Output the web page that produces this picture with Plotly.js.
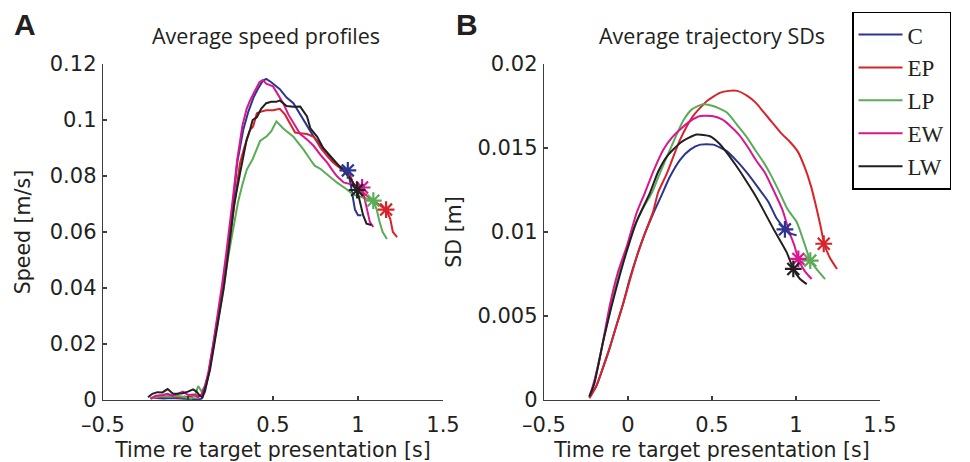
<!DOCTYPE html>
<html>
<head>
<meta charset="utf-8">
<script src="https://cdn.plot.ly/plotly-3.0.1.min.js"></script>
<style>html,body{margin:0;padding:0;background:#fff;}#chart{width:970px;height:462px;}</style>
</head>
<body>
<div id="chart"></div>
<script>
// ---------- DATA ----------
const seriesNames = ['C', 'EP', 'LP', 'EW', 'LW'];

// Panel A: average speed profiles (time [s], speed [m/s])
const speedT_C  = [-0.22,-0.18,-0.14,-0.1,-0.06,-0.02,0.02,0.06,0.08,0.1,0.12,0.148,0.176,0.204,0.226,0.247,0.265,0.29,0.325,0.355,0.385,0.41,0.44,0.46,0.49,0.54,0.58,0.62,0.65,0.68,0.71,0.74,0.78,0.82,0.86,0.89,0.915,0.94,0.955,0.97,0.982,1.0,1.02];
const speedV_C  = [0.0008,0.0006,0.0005,0.0007,0.0006,0.0004,0.0003,0.0002,0.0005,0.003,0.009,0.019,0.029,0.04,0.05,0.06,0.07,0.085,0.0965,0.103,0.108,0.111,0.114,0.1147,0.1135,0.111,0.108,0.106,0.103,0.1,0.097,0.094,0.091,0.088,0.085,0.0835,0.0828,0.082,0.0776,0.073,0.068,0.066,0.066];
const speedT_EP = [-0.22,-0.18,-0.14,-0.1,-0.06,-0.04,-0.02,0.0,0.03,0.06,0.09,0.12,0.148,0.176,0.204,0.228,0.25,0.272,0.306,0.33,0.365,0.383,0.405,0.43,0.46,0.5,0.54,0.57,0.6,0.63,0.66,0.7,0.74,0.78,0.82,0.85,0.88,0.915,0.95,0.97,1.01,1.05,1.09,1.13,1.165,1.19,1.205,1.23];
const speedV_EP = [0.0005,0.001,0.0012,0.0015,0.001,0.0008,0.0012,0.001,0.0015,0.001,0.0025,0.009,0.019,0.029,0.039,0.05,0.06,0.07,0.0847,0.09,0.0965,0.0977,0.1024,0.103,0.1035,0.1035,0.104,0.102,0.099,0.0955,0.0953,0.095,0.094,0.09,0.087,0.085,0.0835,0.082,0.081,0.0776,0.075,0.073,0.0712,0.0695,0.068,0.0646,0.06,0.0582];
const speedT_LP = [-0.22,-0.18,-0.14,-0.1,-0.06,-0.02,0.02,0.04,0.06,0.08,0.1,0.125,0.15,0.18,0.21,0.233,0.255,0.275,0.294,0.32,0.346,0.38,0.424,0.463,0.49,0.52,0.56,0.62,0.68,0.72,0.745,0.78,0.835,0.875,0.935,0.97,1.03,1.09,1.11,1.125,1.145,1.17];
const speedV_LP = [0.0005,0.0012,0.0015,0.0012,0.0015,0.001,0.0005,0.0015,0.005,0.003,0.005,0.01,0.019,0.029,0.04,0.05,0.058,0.065,0.0706,0.077,0.0823,0.086,0.0925,0.0942,0.096,0.0995,0.097,0.094,0.0894,0.0858,0.0837,0.0825,0.0797,0.0777,0.0752,0.0734,0.0723,0.0712,0.068,0.064,0.06,0.0575];
const speedT_EW = [-0.22,-0.19,-0.15,-0.12,-0.09,-0.06,-0.03,0.0,0.03,0.06,0.08,0.1,0.12,0.148,0.176,0.2,0.222,0.243,0.262,0.29,0.32,0.345,0.365,0.39,0.42,0.44,0.46,0.5,0.53,0.56,0.59,0.62,0.66,0.7,0.74,0.78,0.82,0.85,0.875,0.915,0.97,0.995,1.024,1.05,1.07,1.09];
const speedV_EW = [0.0005,0.0015,0.0018,0.0022,0.0015,0.0022,0.003,0.0018,0.002,0.0015,0.002,0.005,0.01,0.02,0.031,0.041,0.051,0.061,0.071,0.086,0.098,0.104,0.107,0.11,0.1135,0.1143,0.113,0.112,0.109,0.106,0.102,0.099,0.095,0.093,0.0907,0.0875,0.0847,0.082,0.08,0.0777,0.077,0.0765,0.0759,0.0695,0.0635,0.0618];
const speedT_LW = [-0.235,-0.21,-0.18,-0.15,-0.12,-0.1,-0.088,-0.06,-0.03,0.0,0.03,0.05,0.07,0.085,0.11,0.13,0.155,0.18,0.21,0.232,0.252,0.272,0.306,0.33,0.345,0.365,0.38,0.405,0.43,0.46,0.49,0.52,0.54,0.58,0.62,0.66,0.7,0.72,0.76,0.795,0.855,0.915,0.96,0.995,1.01,1.03,1.05,1.08];
const speedV_LW = [0.001,0.0022,0.0028,0.0027,0.0039,0.003,0.0022,0.0022,0.0024,0.003,0.0038,0.003,0.0015,0.001,0.006,0.011,0.02,0.029,0.04,0.05,0.06,0.07,0.081,0.088,0.093,0.0965,0.1,0.101,0.104,0.106,0.1065,0.1065,0.107,0.105,0.1047,0.1048,0.1013,0.097,0.094,0.09,0.0858,0.0818,0.0787,0.075,0.0706,0.066,0.063,0.0625];

// Panel A end-of-movement markers (asterisks), order C, EP, LP, EW, LW
const speedStarT = [0.94, 1.165, 1.09, 1.024, 0.995];
const speedStarV = [0.082, 0.068, 0.0712, 0.0759, 0.075];

// Panel B: average trajectory SDs (time [s], SD [m])
const sdT_C  = [-0.23,-0.19,-0.15,-0.109,-0.07,-0.03,0.01,0.054,0.1,0.15,0.2,0.25,0.31,0.37,0.43,0.506,0.59,0.65,0.71,0.77,0.835,0.885,0.934,0.97,1.004];
const sdV_C  = [0.0002,0.0008,0.0019,0.0031,0.0044,0.0057,0.0072,0.0086,0.0099,0.0111,0.0122,0.0133,0.0143,0.0149,0.0152,0.0152,0.0148,0.0142,0.0135,0.0127,0.0118,0.0108,0.0102,0.0099,0.0098];
const sdT_EP = [-0.23,-0.19,-0.15,-0.109,-0.07,-0.03,0.01,0.054,0.1,0.149,0.179,0.232,0.31,0.387,0.47,0.55,0.6,0.65,0.71,0.76,0.81,0.86,0.91,0.97,1.01,1.05,1.09,1.12,1.145,1.168,1.2,1.244];
const sdV_EP = [0.0001,0.0008,0.0019,0.0031,0.0044,0.0057,0.0071,0.0086,0.0099,0.0112,0.01235,0.0135,0.0155,0.0169,0.0178,0.0183,0.0184,0.0184,0.0181,0.0177,0.0171,0.0165,0.0159,0.0153,0.0148,0.0139,0.0127,0.0115,0.0104,0.0093,0.0085,0.0078];
const sdT_LP = [-0.23,-0.2,-0.15,-0.1,-0.05,0.0,0.05,0.1,0.143,0.19,0.25,0.33,0.38,0.446,0.506,0.59,0.655,0.71,0.756,0.81,0.85,0.9,0.95,1.004,1.054,1.085,1.13,1.173];
const sdV_LP = [0.0002,0.0011,0.0034,0.0056,0.0076,0.0092,0.0106,0.0116,0.01235,0.0135,0.0149,0.01665,0.0173,0.0176,0.0175,0.0171,0.0163,0.0156,0.0149,0.0141,0.0134,0.0124,0.01135,0.0106,0.0092,0.0083,0.0077,0.0072];
const sdT_EW = [-0.23,-0.21,-0.168,-0.107,-0.06,-0.006,0.05,0.101,0.15,0.21,0.26,0.31,0.37,0.43,0.5,0.56,0.61,0.66,0.71,0.76,0.815,0.87,0.92,0.96,0.99,1.014,1.05,1.093];
const sdV_EW = [0.0002,0.0008,0.0025,0.0057,0.0076,0.0092,0.0111,0.01235,0.0136,0.0149,0.0156,0.0161,0.0166,0.0169,0.0169,0.0167,0.0163,0.0158,0.0151,0.0143,0.01353,0.0124,0.0113,0.01,0.0092,0.0084,0.0077,0.0072];
const sdT_LW = [-0.23,-0.2,-0.15,-0.1,-0.05,0.0,0.05,0.131,0.18,0.232,0.31,0.36,0.41,0.488,0.54,0.59,0.64,0.7,0.75,0.79,0.865,0.944,0.984,1.024,1.064];
const sdV_LW = [0.0002,0.001,0.0034,0.0055,0.0074,0.0091,0.0106,0.01235,0.0136,0.0145,0.0153,0.0156,0.0158,0.0157,0.0153,0.0147,0.014,0.0131,0.0123,0.0116,0.0102,0.0088,0.0078,0.0072,0.0069];

// Panel B end-of-movement markers, order C, EP, LP, EW, LW
const sdStarT = [0.934, 1.165, 1.085, 1.014, 0.984];
const sdStarV = [0.01016, 0.0093, 0.0083, 0.0084, 0.0078];

// Axis ticks
const xTickVals = [-0.5, 0, 0.5, 1, 1.5];
const xTickText = ['\u20130.5', '0', '0.5', '1', '1.5'];
const speedTickVals = [0, 0.02, 0.04, 0.06, 0.08, 0.1, 0.12];
const speedTickText = ['0', '0.02', '0.04', '0.06', '0.08', '0.1', '0.12'];
const sdTickVals = [0, 0.005, 0.01, 0.015, 0.02];
const sdTickText = ['0', '0.005', '0.01', '0.015', '0.02'];

// ---------- STYLE ----------
const colors = ['#2b3590', '#d8232a', '#5aac57', '#d8178e', '#231f20'];
const speedT = [speedT_C, speedT_EP, speedT_LP, speedT_EW, speedT_LW];
const speedV = [speedV_C, speedV_EP, speedV_LP, speedV_EW, speedV_LW];
const sdT = [sdT_C, sdT_EP, sdT_LP, sdT_EW, sdT_LW];
const sdV = [sdV_C, sdV_EP, sdV_LP, sdV_EW, sdV_LW];

const traces = [];
seriesNames.forEach((name, i) => {
  traces.push({x: speedT[i], y: speedV[i], xaxis: 'x', yaxis: 'y', type: 'scatter', mode: 'lines',
    name: name, legendgroup: name, line: {color: colors[i], width: 2}});
});
seriesNames.forEach((name, i) => {
  traces.push({x: sdT[i], y: sdV[i], xaxis: 'x2', yaxis: 'y2', type: 'scatter', mode: 'lines',
    name: name, legendgroup: name, showlegend: false, line: {color: colors[i], width: 2, shape: 'spline', smoothing: 0.6}});
});
seriesNames.forEach((name, i) => {
  traces.push({x: [speedStarT[i]], y: [speedStarV[i]], xaxis: 'x', yaxis: 'y', type: 'scatter', mode: 'markers',
    name: name, legendgroup: name, showlegend: false,
    marker: {symbol: 'asterisk-open', size: 14, color: colors[i], line: {color: colors[i], width: 2.2}}});
  traces.push({x: [sdStarT[i]], y: [sdStarV[i]], xaxis: 'x2', yaxis: 'y2', type: 'scatter', mode: 'markers',
    name: name, legendgroup: name, showlegend: false,
    marker: {symbol: 'asterisk-open', size: 14, color: colors[i], line: {color: colors[i], width: 2.2}}});
});

const tickFont = {family: 'DejaVu Sans, sans-serif', size: 21, color: '#231f20'};
const titleFont = {family: 'DejaVu Sans, sans-serif', size: 20.5, color: '#231f20'};
const axisCommon = {
  showline: true, linecolor: '#3d3d3d', linewidth: 1.3, mirror: false,
  ticks: 'inside', ticklen: 4, tickcolor: '#3d3d3d', tickwidth: 1.3,
  showgrid: false, zeroline: false, tickfont: tickFont, automargin: false, fixedrange: true
};

const layout = {
  width: 970, height: 462,
  margin: {l: 103, r: 90, t: 60, b: 62},
  paper_bgcolor: '#fff', plot_bgcolor: '#fff',
  showlegend: true,
  legend: {
    x: 0.964, y: 1.156, xanchor: 'left', yanchor: 'top',
    bordercolor: '#000', borderwidth: 1.5, bgcolor: '#fff',
    font: {family: 'Liberation Serif, Times New Roman, serif', size: 23, color: '#231f20'},
    traceorder: 'normal', itemwidth: 44
  },
  xaxis: Object.assign({}, axisCommon, {domain: [0, 0.4376], range: [-0.5, 1.5], tickvals: xTickVals, ticktext: xTickText,
    anchor: 'y', ticklabelstandoff: 5, title: {text: 'Time re target presentation [s]', font: titleFont, standoff: 9}}),
  yaxis: Object.assign({}, axisCommon, {range: [0, 0.12], tickvals: speedTickVals, ticktext: speedTickText,
    anchor: 'x', ticklabelstandoff: 1, title: {text: 'Speed [m/s]', font: titleFont, standoff: 13}}),
  xaxis2: Object.assign({}, axisCommon, {domain: [0.5676, 1], range: [-0.5, 1.5], tickvals: xTickVals, ticktext: xTickText,
    anchor: 'y2', ticklabelstandoff: 5, title: {text: 'Time re target presentation [s]', font: titleFont, standoff: 9}}),
  yaxis2: Object.assign({}, axisCommon, {range: [0, 0.02], tickvals: sdTickVals, ticktext: sdTickText,
    anchor: 'x2', ticklabelstandoff: 1, title: {text: 'SD [m]', font: titleFont, standoff: 10}}),
  annotations: [
    {text: 'Average speed profiles', xref: 'paper', yref: 'paper', x: 0.2098, y: 1.085, xanchor: 'center', yanchor: 'middle',
      showarrow: false, font: {family: 'Open Sans, sans-serif', size: 21.5, color: '#231f20'}},
    {text: 'Average trajectory SDs', xref: 'paper', yref: 'paper', x: 0.7844, y: 1.085, xanchor: 'center', yanchor: 'middle',
      showarrow: false, font: {family: 'Open Sans, sans-serif', size: 21.5, color: '#231f20'}},
    {text: '<b>A</b>', xref: 'paper', yref: 'paper', x: -0.101, y: 1.117, xanchor: 'center', yanchor: 'middle',
      showarrow: false, font: {family: 'Liberation Sans, Arial, sans-serif', size: 30, color: '#231f20'}},
    {text: '<b>B</b>', xref: 'paper', yref: 'paper', x: 0.468, y: 1.117, xanchor: 'center', yanchor: 'middle',
      showarrow: false, font: {family: 'Liberation Sans, Arial, sans-serif', size: 30, color: '#231f20'}}
  ]
};

Plotly.newPlot('chart', traces, layout, {displayModeBar: false, staticPlot: true});
</script>
</body>
</html>
